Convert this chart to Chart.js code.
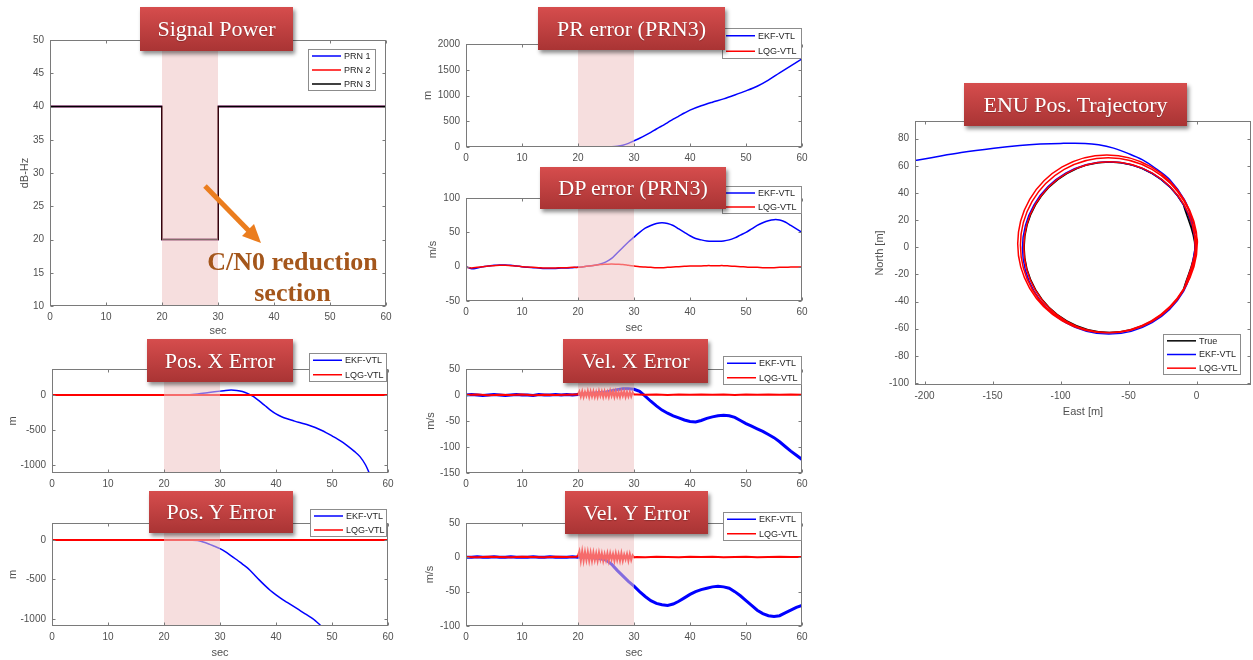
<!DOCTYPE html>
<html>
<head>
<meta charset="utf-8">
<script src="https://cdn.jsdelivr.net/npm/chart.js@4.4.1/dist/chart.umd.min.js"></script>
<style>
  body { margin: 0; background: #fff; width: 1253px; height: 660px; position: relative; overflow: hidden; font-family: "Liberation Sans", Arial, sans-serif; }
  canvas { position: absolute; z-index: 1; }
  #notes { position: absolute; left: 0; top: 0; z-index: 3; }
  .tag {
    position: absolute; z-index: 5; color: #fff;
    font: 22px "Liberation Serif", "Times New Roman", serif;
    display: flex; align-items: center; justify-content: center;
    background: linear-gradient(#d64d4d, #a93434);
    box-shadow: 2px 3px 4px rgba(0,0,0,0.45);
    text-shadow: 0 1px 1px rgba(0,0,0,0.25);
  }
</style>
</head>
<body>

<div class="tag" style="left:140px;top:7px;width:153px;height:44px">Signal Power</div>
<div class="tag" style="left:538px;top:7px;width:187px;height:43px">PR error (PRN3)</div>
<div class="tag" style="left:540px;top:167px;width:186px;height:42px">DP error (PRN3)</div>
<div class="tag" style="left:964px;top:83px;width:223px;height:43px">ENU Pos. Trajectory</div>
<div class="tag" style="left:147px;top:339px;width:146px;height:43px">Pos. X Error</div>
<div class="tag" style="left:149px;top:491px;width:144px;height:42px">Pos. Y Error</div>
<div class="tag" style="left:563px;top:339px;width:145px;height:44px">Vel. X Error</div>
<div class="tag" style="left:565px;top:491px;width:143px;height:43px">Vel. Y Error</div>

<svg id="notes" width="1253" height="660">
  <line x1="205" y1="186" x2="249" y2="231" stroke="#eb7d1e" stroke-width="5"/>
  <polygon points="261,243 242,236 254,224" fill="#eb7d1e"/>
  <text x="292.5" y="270" text-anchor="middle" font-family="Liberation Serif, Times New Roman, serif" font-weight="bold" font-size="26" fill="#a4561b">C/N0 reduction</text>
  <text x="292.5" y="301" text-anchor="middle" font-family="Liberation Serif, Times New Roman, serif" font-weight="bold" font-size="26" fill="#a4561b">section</text>
</svg>

<script>
// ---- time axis shared by most panels ----
const secTicks = [0, 10, 20, 30, 40, 50, 60];
const secT = [0, 1, 2, 3, 4, 5, 6, 7, 8, 9, 10, 11, 12, 13, 14, 15, 16, 17, 18, 19, 20,
  21, 22, 23, 24, 25, 26, 27, 28, 29, 30, 31, 32, 33, 34, 35, 36, 37, 38, 39, 40,
  41, 42, 43, 44, 45, 46, 47, 48, 49, 50, 51, 52, 53, 54, 55, 56, 57, 58, 59, 60];
const flatT = [0, 60];
const flatZero = [0, 0];

// ---- signal power ----
const powerT = [0, 20, 20, 30, 30, 60];
const prn1Cn0 = [40, 40, 20, 20, 40, 40];
const prn2Cn0 = [40, 40, 20, 20, 40, 40];
const prn3Cn0 = [40, 40, 20, 20, 40, 40];
const powerTicks = [10, 15, 20, 25, 30, 35, 40, 45, 50];

// ---- PR error (PRN3) ----
const prT = [0, 24, 25, 26, 27, 28, 29, 30, 31, 32, 33, 34, 35, 36, 37, 38, 39, 40, 42, 44, 46, 48, 50, 52, 54, 56, 58, 60];
const prEkf = [0, 0, 2, 6, 15, 35, 70, 120, 170, 225, 285, 350, 410, 475, 540, 600, 660, 715, 800, 870, 935, 1010, 1090, 1180, 1300, 1440, 1575, 1710];
const prTicks = [0, 500, 1000, 1500, 2000];

// ---- DP error (PRN3) ----
const dpEkf = [0, -3, -2, 0, 1, 2, 2.5, 2.5, 2, 1,
  0, -1, -1.5, -2, -2.5, -2.5, -2.5, -2, -2, -1.5,
  -1, 0, 1, 2, 4, 7, 12, 20, 28, 36,
  43, 50, 56, 60, 63, 64, 63, 60, 55, 50,
  45, 41, 39, 37.5, 37, 37, 37.5, 39, 42, 46,
  50, 55, 60, 64, 67, 68.5, 68, 65, 60, 55, 50];
const dpLqg = [-1, -2, -1, 0, 1, 1.5, 2, 2, 1.5, 1,
  0, -0.5, -1, -1.5, -2, -2, -2, -1.5, -1.5, -1,
  -1, 0, 1, 2, 3, 3.5, 4, 3.5, 3, 2,
  1, 0, -0.5, -1, -1.5, -1.5, -1, -0.5, 0, 0.5,
  1, 1, 1, 1.5, 1.5, 1.5, 1.5, 1, 0.5, 0,
  -0.5, -1, -1, -1.5, -1.5, -1.5, -1, -1, -0.5, -0.5, -0.5];
const dpTicks = [-50, 0, 50, 100];

// ---- position errors ----
const posXT = [0, 24, 26, 28, 30, 31, 32, 33, 34, 35, 36, 37, 38, 39, 40, 41, 42, 43, 44, 45, 46, 47, 48, 49, 50, 51, 52, 53, 54, 55, 56, 57];
const posXEkf = [0, 0, 15, 35, 55, 65, 70, 65, 50, 20, -25, -85, -150, -215, -270, -310, -340, -365, -390, -410, -435, -465, -500, -540, -585, -630, -680, -740, -805, -880, -1000, -1180];
const posYT = [0, 24, 26, 27, 28, 29, 30, 31, 32, 33, 34, 35, 36, 37, 38, 39, 40, 41, 42, 43, 44, 45, 46, 47, 48, 49];
const posYEkf = [0, 0, -8, -25, -50, -80, -110, -150, -200, -250, -305, -360, -430, -505, -575, -640, -695, -745, -790, -835, -880, -925, -970, -1020, -1085, -1150];
const posTicks = [-1000, -500, 0];

// ---- velocity errors ----
const velXEkf = [0, 1, 0, -1, 0, 1, 0, -1, 0, 1, 0, 0, -1, 1, 0, 0, 1, 0, 1, 0,
  1, 2, 3, 4, 5, 6, 8, 10, 12, 12,
  11, 7, -2, -12, -21, -29, -35, -40, -44, -48,
  -51, -52, -49, -45, -42, -40, -39, -40, -43, -49,
  -55, -60, -65, -70, -76, -82, -90, -99, -108, -116, -124];
const velYEkf = [0, 0, 1, 0, 0, 1, 0, 0, 1, 0, 0, 0, 1, 0, 0, 1, 0, 0, 0, 1,
  0, 0, 0, -1, -2, -4, -10, -19, -27, -35,
  -42, -50, -57, -63, -67, -69, -70, -68, -64, -59,
  -54, -50, -47, -45, -43, -42, -43, -45, -50, -56,
  -63, -70, -77, -82, -85, -86, -85, -81, -77, -73, -70];

const quietT1 = [0, 2, 4, 6, 8, 10, 12, 14, 16, 18, 19.75];
const bandT = [20, 20.25, 20.5, 20.75, 21, 21.25, 21.5, 21.75, 22, 22.25, 22.5, 22.75, 23, 23.25,
  23.5, 23.75, 24, 24.25, 24.5, 24.75, 25, 25.25, 25.5, 25.75, 26, 26.25, 26.5, 26.75, 27,
  27.25, 27.5, 27.75, 28, 28.25, 28.5, 28.75, 29, 29.25, 29.5, 29.75, 30];
const quietT2 = [30.5, 32, 34, 36, 38, 40, 42, 44, 46, 48, 50, 52, 54, 56, 58, 60];

const velXLqgA = [0, 1, -0.5, 0.5, 0, 1, -0.5, 0.5, 0, 0.5, 1];
const velXLqgBand = [1, 7, -3, 7, -4, 6, -2, 8, -4, 7, -3, 7, -4, 6, -4, 8, -2, 7, -4, 7,
  -3, 6, -4, 8, -2, 7, -4, 7, -3, 6, -4, 7, -2, 7, -4, 6, -3, 6, -3, 5, 1];
const velXLqgB = [1, 0.5, 1, 0, 1, 0.5, 1, 0.5, 1, 0, 1, 0.5, 1, 0.5, 1, 0.5];

const velYLqgA = [0.5, 0, 1, 0.5, 0, 1, 0.5, 0, 1, 0.5, 1];
const velYLqgBand = [2, 9, -5, 9, -5, 8, -4, 8, -5, 7, -5, 7, -4, 6, -5, 7, -3, 6, -5, 5,
  -4, 6, -5, 6, -3, 5, -5, 6, -4, 5, -5, 6, -5, 4, -3, 5, -5, 5, -4, 3, 0];
const velYLqgB = [0.5, 0, 1, 0.5, 0, 1, 0.5, 1, 0, 0.5, 1, 0, 0.5, 1, 0.5, 0.5];

const velXTicks = [-150, -100, -50, 0, 50];
const velYTicks = [-100, -50, 0, 50];

// ---- ENU trajectory ----
const eastTicks = [-200, -150, -100, -50, 0];
const northTicks = [-100, -80, -60, -40, -20, 0, 20, 40, 60, 80];
const trueE = [-9.7, -1.2, -9.7, -32.6, -64, -95.4, -118.3, -126.8, -118.3, -95.4, -64, -32.6, -9.7, -1.2, -9.7];
const trueN = [-31.4, 0, 31.4, 54.3, 62.8, 54.3, 31.4, 0, -31.4, -54.3, -62.8, -54.3, -31.4, 0, 31.4];
const ekfE = [-9.5, -1, -9.5, -32.75, -64.5, -96.25, -119.5, -128, -119.5, -96.25, -64.5, -32.75, -9.5,
  -1, -1.5, -4, -9, -20, -30, -40, -50, -61, -72, -82, -100, -115, -130, -149, -173, -195, -212];
const ekfN = [-32.25, -0.5, 31.25, 54.5, 63, 54.5, 31.25, -0.5, -32.25, -55.5, -64, -55.5, -32.25,
  -0.5, 8, 22, 35, 50, 58, 64.5, 69, 73, 75.5, 76.5, 76.5, 76, 75, 73, 69.8, 66, 63];
const lqgE = [-9.4, -1, -9.4, -32.5, -64, -95.5, -118.6, -127, -118.6, -95.5, -64, -32.5, -9.4,
  0, -9.1, -32.8, -65, -97.3, -120.9, -129.5, -120.9, -97.3, -65, -32.8, -9.1,
  0.5, -9.3, -33.3, -66, -98.8, -122.7, -131.5, -122.7, -98.8, -66, -33.3, -9.3, 0.5, -1.5];
const lqgN = [-31.5, 0, 31.5, 54.6, 63, 54.6, 31.5, 0, -31.5, -54.6, -63, -54.6, -31.5,
  2, 33.8, 57.4, 66, 57.4, 33.8, 1.5, -30.8, -54.4, -63, -54.4, -30.8,
  3, 35.3, 59.2, 68, 59.2, 35.3, 2.5, -30.3, -54.2, -63, -54.2, -30.3, 2.5, 14];

const BLUE = '#0000ff', RED = '#ff0000', BLACK = '#000000';
const PT = 42, PR = 12;

const panels = [
  { L: 50, T: 40, R: 386, B: 306, yw: 32, xh: 32, yMin: 10, yMax: 50, yTicks: powerTicks,
    yTitle: 'dB-Hz', xTitle: 'sec', legend: [308, 49, 68, 42], shade: true,
    series: [
      { label: 'PRN 1', t: powerT, v: prn1Cn0, color: BLUE, w: 1.5 },
      { label: 'PRN 2', t: powerT, v: prn2Cn0, color: RED, w: 1.5 },
      { label: 'PRN 3', t: powerT, v: prn3Cn0, color: BLACK, w: 1.5 }] },
  { L: 466, T: 44, R: 802, B: 147, yw: 45, xh: 22, yMin: 0, yMax: 2000, yTicks: prTicks,
    yTitle: 'm', legend: [722, 28, 80, 31], shade: true,
    series: [
      { label: 'EKF-VTL', t: prT, v: prEkf, color: BLUE, w: 1.5, tension: 0.3 },
      { label: 'LQG-VTL', t: flatT, v: flatZero, color: RED, w: 1.5 }] },
  { L: 466, T: 198, R: 802, B: 301, yw: 40, xh: 34, yMin: -50, yMax: 100, yTicks: dpTicks,
    yTitle: 'm/s', xTitle: 'sec', legend: [722, 186, 80, 28], shade: true,
    series: [
      { label: 'EKF-VTL', t: secT, v: dpEkf, color: BLUE, w: 1.5, tension: 0.3 },
      { label: 'LQG-VTL', t: secT, v: dpLqg, color: RED, w: 1.5, tension: 0.3 }] },
  { L: 52, T: 369, R: 388, B: 473, yw: 46, xh: 22, yMin: -1114, yMax: 371, yTicks: posTicks,
    yTitle: 'm', legend: [309, 353, 78, 29], shade: true,
    series: [
      { label: 'EKF-VTL', t: posXT, v: posXEkf, color: BLUE, w: 1.5, tension: 0.3 },
      { label: 'LQG-VTL', t: flatT, v: flatZero, color: RED, w: 2 }] },
  { L: 52, T: 523, R: 388, B: 626, yw: 46, xh: 34, yMin: -1089, yMax: 215, yTicks: posTicks,
    yTitle: 'm', xTitle: 'sec', legend: [310, 509, 77, 28], shade: true,
    series: [
      { label: 'EKF-VTL', t: posYT, v: posYEkf, color: BLUE, w: 1.5, tension: 0.3 },
      { label: 'LQG-VTL', t: flatT, v: flatZero, color: RED, w: 2 }] },
  { L: 466, T: 369, R: 802, B: 473, yw: 42, xh: 22, yMin: -150, yMax: 50, yTicks: velXTicks,
    yTitle: 'm/s', legend: [723, 356, 79, 29], shade: true,
    series: [
      { label: 'EKF-VTL', t: secT, v: velXEkf, color: BLUE, w: 3 },
      { label: 'LQG-VTL', t: [...quietT1, ...bandT, ...quietT2], v: [...velXLqgA, ...velXLqgBand, ...velXLqgB], color: RED, w: 2 }] },
  { L: 466, T: 523, R: 802, B: 626, yw: 43, xh: 34, yMin: -100, yMax: 50, yTicks: velYTicks,
    yTitle: 'm/s', xTitle: 'sec', legend: [723, 512, 79, 29], shade: true,
    series: [
      { label: 'EKF-VTL', t: secT, v: velYEkf, color: BLUE, w: 3 },
      { label: 'LQG-VTL', t: [...quietT1, ...bandT, ...quietT2], v: [...velYLqgA, ...velYLqgBand, ...velYLqgB], color: RED, w: 2 }] },
  { L: 915, T: 121, R: 1251, B: 385, yw: 42, xh: 34, xMin: -207, xMax: 40, xTicks: eastTicks,
    yMin: -101.5, yMax: 93, yTicks: northTicks, yTitle: 'North [m]', xTitle: 'East [m]',
    legend: [1163, 334, 78, 41], shade: false,
    series: [
      { label: 'True', t: trueE, v: trueN, color: BLACK, w: 1.5, tension: 0.35 },
      { label: 'EKF-VTL', t: ekfE, v: ekfN, color: BLUE, w: 1.5, tension: 0.35 },
      { label: 'LQG-VTL', t: lqgE, v: lqgN, color: RED, w: 1.5, tension: 0.35 }] }
];

// shading of the C/N0 reduction window, box frame with inward ticks, and in-axes legend
const deco = {
  id: 'deco',
  afterDatasetsDraw(chart, args, o) {
    if (!o.shade) return;
    const { ctx, chartArea: a, scales: { x } } = chart;
    const x0 = x.getPixelForValue(20), x1 = x.getPixelForValue(30);
    ctx.save();
    ctx.fillStyle = 'rgba(238,195,195,0.55)';
    ctx.fillRect(x0, a.top, x1 - x0, a.bottom - a.top);
    ctx.restore();
  },
  afterDraw(chart, args, o) {
    const { ctx, chartArea: a, scales: { x, y } } = chart;
    const l = Math.round(a.left) + 0.5, r = Math.round(a.right) - 0.5;
    const t = Math.round(a.top) + 0.5, b = Math.round(a.bottom) - 0.5;
    ctx.save();
    ctx.strokeStyle = '#7a7a7a';
    ctx.lineWidth = 1;
    ctx.strokeRect(l, t, r - l, b - t);
    ctx.beginPath();
    x.ticks.forEach(tk => {
      const px = Math.round(x.getPixelForValue(tk.value)) + 0.5;
      ctx.moveTo(px, b); ctx.lineTo(px, b - 3);
      ctx.moveTo(px, t); ctx.lineTo(px, t + 3);
    });
    y.ticks.forEach(tk => {
      const py = Math.round(y.getPixelForValue(tk.value)) + 0.5;
      ctx.moveTo(l, py); ctx.lineTo(l + 3, py);
      ctx.moveTo(r, py); ctx.lineTo(r - 3, py);
    });
    ctx.stroke();

    const [px, py, w, h] = o.legend;
    const lx = px - o.off[0], ly = py - o.off[1];
    ctx.fillStyle = '#fff';
    ctx.fillRect(lx, ly, w, h);
    ctx.strokeStyle = '#8c8c8c';
    ctx.strokeRect(lx + 0.5, ly + 0.5, w - 1, h - 1);
    const ds = chart.data.datasets;
    ctx.font = '9px "Liberation Sans", Arial, sans-serif';
    ctx.textBaseline = 'middle';
    ds.forEach((d, i) => {
      const cy = ly + h * (i + 0.5) / ds.length;
      ctx.strokeStyle = d.borderColor;
      ctx.lineWidth = 1.5;
      ctx.beginPath();
      ctx.moveTo(lx + 4, cy); ctx.lineTo(lx + 33, cy);
      ctx.stroke();
      ctx.fillStyle = '#262626';
      ctx.fillText(d.label, lx + 36, cy + 0.5);
    });
    ctx.restore();
  }
};

Chart.defaults.font.family = '"Liberation Sans", Arial, sans-serif';

panels.forEach(p => {
  const W = p.yw + (p.R - p.L) + PR;
  const H = PT + (p.B - p.T) + p.xh;
  const canvas = document.createElement('canvas');
  canvas.width = W;
  canvas.height = H;
  canvas.style.left = (p.L - p.yw) + 'px';
  canvas.style.top = (p.T - PT) + 'px';
  document.body.appendChild(canvas);

  const n = p.series.length;
  const xTicks = p.xTicks || secTicks;
  new Chart(canvas, {
    type: 'scatter',
    data: {
      datasets: p.series.map((s, i) => ({
        label: s.label,
        data: s.t.map((tv, k) => ({ x: tv, y: s.v[k] })),
        showLine: true,
        borderColor: s.color,
        backgroundColor: s.color,
        borderWidth: s.w,
        pointRadius: 0,
        tension: s.tension || 0,
        order: n - 1 - i
      }))
    },
    options: {
      responsive: false,
      animation: false,
      events: [],
      layout: { padding: { top: PT, right: PR, left: 0, bottom: 0 } },
      plugins: {
        legend: { display: false },
        tooltip: { enabled: false },
        deco: { shade: p.shade, legend: p.legend, off: [p.L - p.yw, p.T - PT] }
      },
      scales: {
        x: {
          type: 'linear',
          min: p.xMin !== undefined ? p.xMin : 0,
          max: p.xMax !== undefined ? p.xMax : 60,
          afterBuildTicks: s => { s.ticks = xTicks.map(v => ({ value: v })); },
          afterFit: s => { s.height = p.xh; },
          grid: { drawOnChartArea: false, drawTicks: false },
          border: { display: false },
          ticks: { color: '#505050', font: { size: 10 }, padding: 5, autoSkip: false, maxRotation: 0,
                   callback: v => String(v) },
          title: { display: !!p.xTitle, text: p.xTitle, color: '#505050', font: { size: 11 },
                   padding: { top: 0, bottom: 0 } }
        },
        y: {
          min: p.yMin,
          max: p.yMax,
          afterBuildTicks: s => { s.ticks = p.yTicks.map(v => ({ value: v })); },
          afterFit: s => { s.width = p.yw; },
          grid: { drawOnChartArea: false, drawTicks: false },
          border: { display: false },
          ticks: { color: '#505050', font: { size: 10 }, padding: 6, autoSkip: false,
                   callback: v => String(v) },
          title: { display: true, text: p.yTitle, color: '#505050', font: { size: 11 },
                   padding: { top: 0, bottom: 0 } }
        }
      }
    },
    plugins: [deco]
  });
});
</script>
</body>
</html>
